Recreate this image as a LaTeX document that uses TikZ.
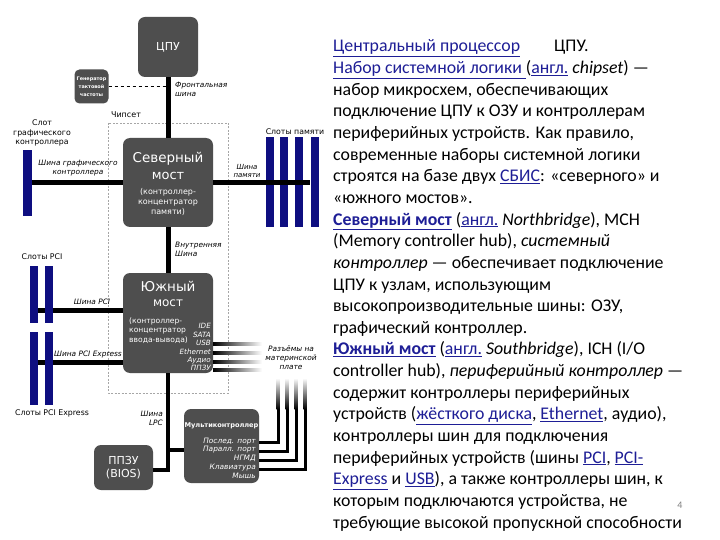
\documentclass[tikz,border=0pt]{standalone}
\usepackage{fontspec}
\setmainfont{Carlito}
\newfontfamily\djs{DejaVu Sans}
\definecolor{boxgray}{RGB}{78,78,78}
\definecolor{navy}{RGB}{14,14,128}
\definecolor{lb}{RGB}{30,30,150}
\newcommand\lk[1]{{\color{lb}\underline{#1}}}
\newcommand\dsz[1]{\fontsize{#1}{#1}\selectfont}
\begin{document}
\begin{tikzpicture}[x=1pt,y=-1pt,
  box/.style={fill=boxgray, rounded corners=7pt, inner sep=0pt},
  slot/.style={fill=navy, inner sep=0pt},
  bus/.style={line width=5pt},
  lbl/.style={inner sep=0pt, align=center, font=\djs\fontsize{7.8}{9.5}\selectfont},
  ilbl/.style={inner sep=0pt, align=center, font=\djs\itshape\fontsize{7.4}{9}\selectfont},
  wtxt/.style={inner sep=0pt, align=center, text=white},
  tl/.style={anchor=base west, inner sep=0pt, font=\fontsize{17.8}{21}\selectfont}]
\useasboundingbox[fill=white] (0,0) rectangle (720,540);

% chipset dashed frame
\draw[gray!70, line width=0.6pt, dash pattern=on 2pt off 1.5pt] (108,123) rectangle (228,393);
\node[lbl, font=\djs\dsz{8}] (chip) at (126,115) {Чипсет};

% boxes
\node[box, minimum width=60pt, minimum height=60pt] (cpu) at (168,47) {};
\node[wtxt, font=\djs\dsz{11}] (cpulbl) at (cpu.center) {ЦПУ};
\node[box, rounded corners=5pt, minimum width=34pt, minimum height=34pt] (gen) at (91.5,86.5) {};
\node[wtxt, font=\djs\bfseries\fontsize{4.9}{8}\selectfont] (genlbl) at (gen.center) {Генератор\\тактовой\\частоты};
\node[box, minimum width=90pt, minimum height=89pt] (nb) at (168,182.5) {};
\node[box, minimum width=90pt, minimum height=100pt] (sb) at (168,323) {};
\node[box, minimum width=75pt, minimum height=74pt] (mc) at (221.5,446) {};
\node[box, minimum width=59pt, minimum height=45pt] (rom) at (123.5,467.5) {};

% slots
\node[slot, minimum width=9pt, minimum height=66pt] (gs) at (27.5,183) {};
\node[slot, minimum width=8pt, minimum height=90pt] (ms1) at (269.5,182) {};
\node[slot, minimum width=8pt, minimum height=90pt] (ms2) at (284,182) {};
\node[slot, minimum width=8pt, minimum height=90pt] (ms3) at (299,182) {};
\node[slot, minimum width=8pt, minimum height=90pt] (ms4) at (314.5,182) {};
\coordinate (pciy) at (0,310);
\coordinate (pcey) at (0,362);
\draw[bus] (34,310) -- (sb.west |- pciy);
\draw[bus] (34,362) -- (sb.west |- pcey);
\node[slot, minimum width=8pt, minimum height=57pt] (p1) at (34,294.5) {};
\node[slot, minimum width=8pt, minimum height=57pt] (p2) at (49,294.5) {};
\node[slot, minimum width=8pt, minimum height=73pt] (e1) at (34,368.5) {};
\node[slot, minimum width=8pt, minimum height=73pt] (e2) at (49,368.5) {};

% buses
\draw[bus] (cpu.south) -- (nb.north);
\draw[dashed, line width=0.7pt] (gen.east) -- (gen.east -| cpu.south);
\draw[bus] (gs.east |- nb.west) -- (nb.west);
\draw[bus] (nb.east) -- (ms4.west |- nb.east);
\draw[bus] (nb.south) -- (sb.north);
\coordinate (lpcA) at (168,450);
\coordinate (lpcB) at (168,470);
\draw[line width=4.5pt] (sb.south) -- (lpcB);
\draw[line width=4.5pt] (lpcA) -- (mc.west |- lpcA);
\draw[line width=4.5pt] (rom.east |- lpcB) -- ([xshift=2.25pt]lpcB);

% south bridge outputs (fading)
\foreach \yy in {344,353,362,370}
  \shade[left color=black, right color=white] (213,\yy-1.6) rectangle (262,\yy+1.6);
% multicontroller outputs
\foreach \yy/\xx in {442/278, 451/287, 460/296, 469/305}{
  \draw[line width=3pt] (259,\yy) -| (\xx,408);
  \shade[top color=white, bottom color=black] (\xx-1.5,378) rectangle (\xx+1.5,409);
}

% texts in boxes
\node[wtxt, font=\djs\dsz{13.5}] (nb1) at (168,159) {Северный};
\node[wtxt, font=\djs\dsz{13}] (nb2) at (168,176) {мост};
\node[wtxt, font=\djs\fontsize{8}{10}\selectfont] (nb3) at (168,202) {(контроллер-\\концентратор\\памяти)};
\node[wtxt, font=\djs\dsz{13.5}] (sb1) at (168,286) {Южный};
\node[wtxt, font=\djs\dsz{12}] (sb2) at (168,303) {мост};
\node[wtxt, align=left, anchor=west, font=\djs\fontsize{7.6}{9.3}\selectfont] (sb3) at (129,330.5) {(контроллер-\\концентратор\\ввода-вывода)};
\node[wtxt, align=right, anchor=north east, font=\djs\itshape\fontsize{7.2}{8.4}\selectfont] (sb4) at (211,323.5) {IDE\\SATA\\USB\\Ethernet\\Аудио\\ППЗУ};
\node[wtxt, font=\djs\bfseries\dsz{6.6}] (mc1) at (221.5,426) {Мультиконтроллер};
\node[wtxt, align=right, anchor=north east, font=\djs\itshape\fontsize{7.4}{8.8}\selectfont] (mc2) at (256,437.5) {Послед. порт\\Паралл. порт\\НГМД\\Клавиатура\\Мышь};
\node[wtxt, font=\djs\fontsize{11}{13}\selectfont] (roml) at (123.5,467.5) {ППЗУ\\(BIOS)};

% labels
\node[ilbl, align=left, anchor=west] (fsbl) at (175,89) {Фронтальная\\шина};
\node[lbl] (gsl) at (42,133) {Слот\\графического\\контроллера};
\node[ilbl] (gbl) at (78,168) {Шина графического\\контроллера};
\node[lbl] (msl) at (295,132) {Слоты памяти};
\node[ilbl, font=\djs\itshape\fontsize{7}{8.2}\selectfont] (mbl) at (247,171) {Шина\\памяти};
\node[ilbl, align=left, anchor=west] (ibl) at (175,249.5) {Внутренняя\\Шина};
\node[lbl] (pcil) at (42,257) {Слоты PCI};
\node[ilbl] (pcibl) at (92,302) {Шина PCI};
\node[ilbl] (pcebl) at (88,355) {Шина PCI Express};
\node[lbl] (pcel) at (52,413) {Слоты PCI Express};
\node[ilbl] (conl) at (291,358) {Разъёмы на\\материнской\\плате};
\node[ilbl, align=right, anchor=east] (lpcl) at (163,418) {Шина\\LPC};

% right-hand text
\node[tl] (t1) at (333,52) {\lk{Центральный процессор}\hspace{34pt}ЦПУ.};
\node[tl] (t2) at (333,73.64) {\lk{Набор системной логики }(\lk{англ.} \textit{chipset}) —};
\node[tl] (t3) at (333,95.28) {набор микросхем, обеспечивающих};
\node[tl] (t4) at (333,116.92) {подключение ЦПУ к ОЗУ и контроллерам};
\node[tl] (t5) at (333,138.56) {периферийных устройств. Как правило,};
\node[tl] (t6) at (333,160.2) {современные наборы системной логики};
\node[tl] (t7) at (333,181.84) {строятся на базе двух \lk{СБИС}: «северного» и};
\node[tl] (t8) at (333,203.48) {«южного мостов».};
\node[tl] (t9) at (333,225.12) {\lk{\textbf{Северный мост}} (\lk{англ.} \textit{Northbridge}), MCH};
\node[tl] (t10) at (333,246.76) {(Memory controller hub), \textit{системный}};
\node[tl] (t11) at (333,268.4) {\textit{контроллер} — обеспечивает подключение};
\node[tl] (t12) at (333,290.04) {ЦПУ к узлам, использующим};
\node[tl] (t13) at (333,311.68) {высокопроизводительные шины: ОЗУ,};
\node[tl] (t14) at (333,333.32) {графический контроллер.};
\node[tl] (t15) at (333,354.96) {\lk{\textbf{Южный мост}} (\lk{англ.} \textit{Southbridge}), ICH (I/O};
\node[tl] (t16) at (333,376.6) {controller hub), \textit{периферийный контроллер} —};
\node[tl] (t17) at (333,398.24) {содержит контроллеры периферийных};
\node[tl] (t18) at (333,419.88) {устройств (\lk{жёсткого диска}, \lk{Ethernet}, аудио),};
\node[tl] (t19) at (333,441.52) {контроллеры шин для подключения};
\node[tl] (t20) at (333,463.16) {периферийных устройств (шины \lk{PCI}, \lk{PCI-}};
\node[tl] (t21) at (333,484.8) {\lk{Express} и \lk{USB}), а также контроллеры шин, к};
\node[tl] (t22) at (333,506.44) {которым подключаются устройства, не};
\node[tl] (t23) at (333,528.08) {требующие высокой пропускной способности};
\node[inner sep=0pt, text=gray, font=\dsz{10}] (pg) at (680,505) {4};
\end{tikzpicture}
\end{document}
